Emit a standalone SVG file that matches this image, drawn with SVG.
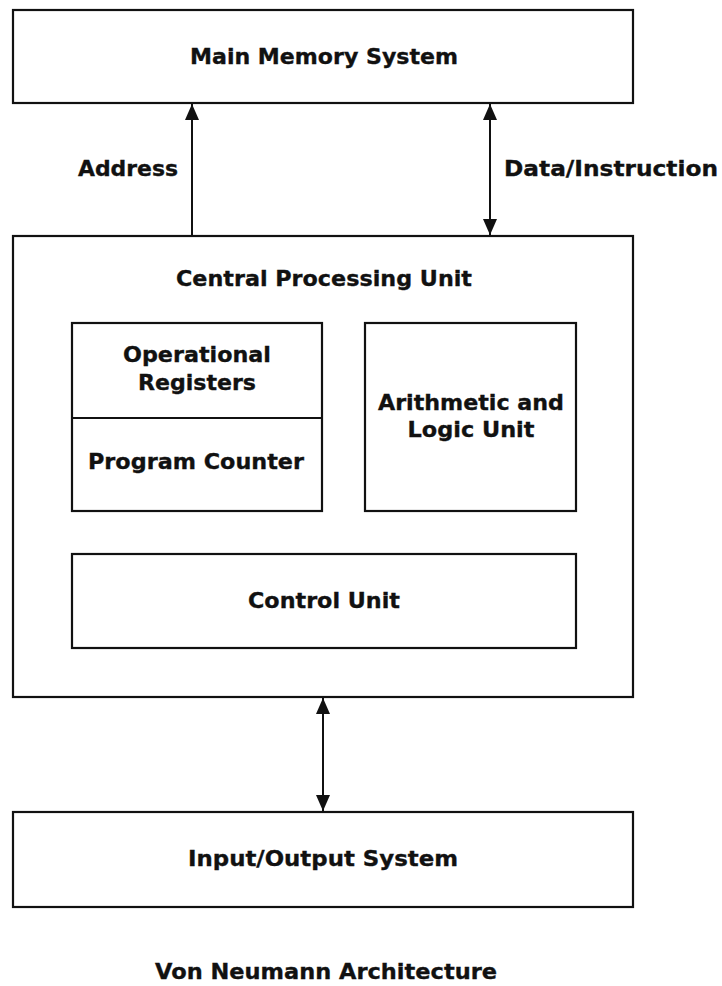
<svg xmlns="http://www.w3.org/2000/svg" width="722" height="986" viewBox="0 0 722 986">
<style>
  .box { fill: #ffffff; stroke: #111111; stroke-width: 2.2; }
  .line { fill: none; stroke: #111111; stroke-width: 2; }
  text { font-family: "DejaVu Sans", Verdana, sans-serif; font-weight: bold; font-size: 22px; fill: #111111; stroke: #111111; stroke-width: 0.35; }
  .c { text-anchor: middle; }
</style>
<defs>
  <marker id="ah" viewBox="0 0 16 14" refX="16" refY="7" markerWidth="16" markerHeight="14" markerUnits="userSpaceOnUse" orient="auto-start-reverse">
    <path d="M0,0 L16,7 L0,14 Z" fill="#111111"/>
  </marker>
</defs>
<rect x="0" y="0" width="722" height="986" fill="#ffffff"/>

<g id="connectors">
  <line class="line" x1="192" y1="236" x2="192" y2="104" marker-end="url(#ah)"/>
  <line class="line" x1="490" y1="104" x2="490" y2="235" marker-start="url(#ah)" marker-end="url(#ah)"/>
  <line class="line" x1="323" y1="698" x2="323" y2="811" marker-start="url(#ah)" marker-end="url(#ah)"/>
  <text x="178" y="176" text-anchor="end" textLength="100" lengthAdjust="spacingAndGlyphs">Address</text>
  <text x="504" y="176" textLength="214" lengthAdjust="spacingAndGlyphs">Data/Instruction</text>
</g>

<g id="main-memory">
  <rect class="box" x="13" y="10" width="620" height="93"/>
  <text class="c" x="324" y="64" textLength="268" lengthAdjust="spacingAndGlyphs">Main Memory System</text>
</g>

<g id="cpu">
  <rect class="box" x="13" y="236" width="620" height="461"/>
  <text class="c" x="324" y="286" textLength="296" lengthAdjust="spacingAndGlyphs">Central Processing Unit</text>
</g>

<g id="registers">
  <rect class="box" x="72" y="323" width="250" height="188"/>
  <line class="line" x1="72" y1="418" x2="322" y2="418" stroke-width="2.2"/>
  <text class="c" x="197" y="362" textLength="148" lengthAdjust="spacingAndGlyphs">Operational</text>
  <text class="c" x="197" y="390" textLength="118" lengthAdjust="spacingAndGlyphs">Registers</text>
  <text class="c" x="196" y="469" textLength="216" lengthAdjust="spacingAndGlyphs">Program Counter</text>
</g>

<g id="alu">
  <rect class="box" x="365" y="323" width="211" height="188"/>
  <text class="c" x="471" y="410" textLength="186" lengthAdjust="spacingAndGlyphs">Arithmetic and</text>
  <text class="c" x="471" y="437" textLength="127" lengthAdjust="spacingAndGlyphs">Logic Unit</text>
</g>

<g id="control-unit">
  <rect class="box" x="72" y="554" width="504" height="94"/>
  <text class="c" x="324" y="608" textLength="152" lengthAdjust="spacingAndGlyphs">Control Unit</text>
</g>

<g id="io-system">
  <rect class="box" x="13" y="812" width="620" height="95"/>
  <text class="c" x="323" y="866" textLength="270" lengthAdjust="spacingAndGlyphs">Input/Output System</text>
</g>

<g id="title">
  <text class="c" x="326" y="979" textLength="342" lengthAdjust="spacingAndGlyphs">Von Neumann Architecture</text>
</g>
</svg>
